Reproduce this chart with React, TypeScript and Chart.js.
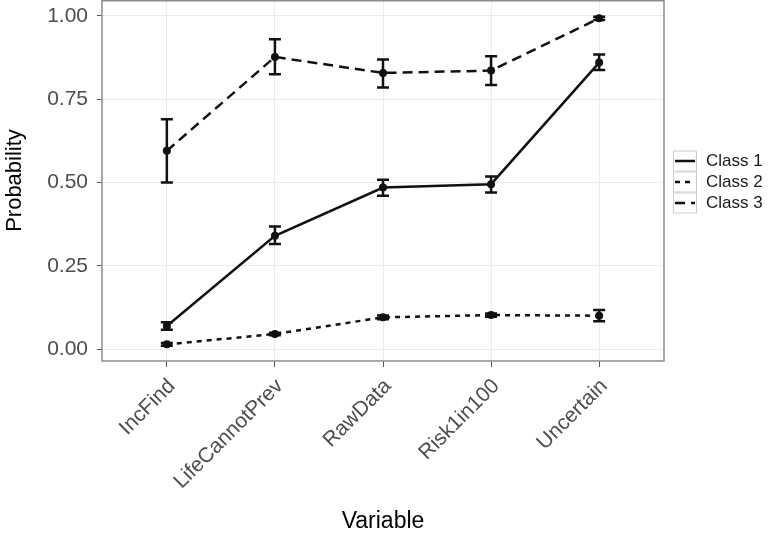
import React, { useEffect, useRef } from "react";
import { Chart, registerables } from "chart.js";

Chart.register(...registerables);

const categories = ["IncFind", "LifeCannotPrev", "RawData", "Risk1in100", "Uncertain"];
const seriesNames = ["Class 1", "Class 2", "Class 3"];

const class1Mean = [0.069, 0.34, 0.485, 0.495, 0.86];
const class1Lo = [0.058, 0.315, 0.46, 0.47, 0.838];
const class1Hi = [0.08, 0.368, 0.508, 0.518, 0.884];

const class2Mean = [0.014, 0.045, 0.095, 0.102, 0.1];
const class2Lo = [0.01, 0.041, 0.089, 0.097, 0.083];
const class2Hi = [0.018, 0.049, 0.101, 0.107, 0.117];

const class3Mean = [0.595, 0.877, 0.829, 0.836, 0.993];
const class3Lo = [0.5, 0.825, 0.785, 0.793, 0.988];
const class3Hi = [0.69, 0.93, 0.869, 0.879, 0.998];

const yTicks = [0, 0.25, 0.5, 0.75, 1.0];

const means = [class1Mean, class2Mean, class3Mean];
const los = [class1Lo, class2Lo, class3Lo];
const his = [class1Hi, class2Hi, class3Hi];
const dashes: number[][] = [[], [5, 5], [10, 6]];

const FONT = "'Liberation Sans', Arial, Helvetica, sans-serif";

const errorBarPlugin = {
  id: "errorBars",
  afterDatasetsDraw(chart: any) {
    const ctx = chart.ctx;
    const xs = chart.scales.x;
    const ys = chart.scales.y;
    ctx.save();
    ctx.strokeStyle = "#111";
    ctx.lineWidth = 2.5;
    ctx.setLineDash([]);
    for (let s = 0; s < means.length; s++) {
      for (let i = 0; i < categories.length; i++) {
        const x = xs.getPixelForValue(i);
        const y1 = ys.getPixelForValue(los[s][i]);
        const y2 = ys.getPixelForValue(his[s][i]);
        ctx.beginPath();
        ctx.moveTo(x, y1);
        ctx.lineTo(x, y2);
        ctx.moveTo(x - 6, y1);
        ctx.lineTo(x + 6, y1);
        ctx.moveTo(x - 6, y2);
        ctx.lineTo(x + 6, y2);
        ctx.stroke();
      }
    }
    ctx.restore();
  },
};

const panelPlugin = {
  id: "panelBorder",
  afterDraw(chart: any) {
    const { left, right, top, bottom } = chart.chartArea;
    const ctx = chart.ctx;
    ctx.save();
    ctx.strokeStyle = "#8c8c8c";
    ctx.lineWidth = 1.5;
    ctx.setLineDash([]);
    ctx.strokeRect(left, top + 0.75, right - left, bottom - top - 0.75);
    ctx.restore();
  },
};

const legendPlugin = {
  id: "ggLegend",
  afterDraw(chart: any) {
    const { right, top, bottom } = chart.chartArea;
    const ctx = chart.ctx;
    const x0 = right + 9;
    const keyW = 24;
    const keyH = 21;
    const cy = (top + bottom) / 2 + 1.5;
    ctx.save();
    for (let s = 0; s < seriesNames.length; s++) {
      const yc = cy + (s - 1) * keyH;
      ctx.setLineDash([]);
      ctx.strokeStyle = "#cccccc";
      ctx.lineWidth = 1;
      ctx.fillStyle = "#ffffff";
      ctx.fillRect(x0, yc - keyH / 2, keyW, keyH);
      ctx.strokeRect(x0 + 0.5, yc - keyH / 2 + 0.5, keyW - 1, keyH - 1);
      ctx.strokeStyle = "#111";
      ctx.lineWidth = 2.5;
      ctx.setLineDash(dashes[s]);
      ctx.beginPath();
      ctx.moveTo(x0 + 2, yc);
      ctx.lineTo(x0 + keyW - 2, yc);
      ctx.stroke();
      ctx.setLineDash([]);
      ctx.fillStyle = "#1a1a1a";
      ctx.font = `17px ${FONT}`;
      ctx.textAlign = "left";
      ctx.textBaseline = "middle";
      ctx.fillText(seriesNames[s], x0 + keyW + 9, yc);
    }
    ctx.restore();
  },
};

export default function App() {
  const canvasRef = useRef<HTMLCanvasElement | null>(null);

  useEffect(() => {
    document.body.style.margin = "0";
    const canvas = canvasRef.current;
    if (!canvas) return;
    const chart = new Chart(canvas, {
      type: "line",
      data: {
        datasets: means.map((m, s) => ({
          label: seriesNames[s],
          data: m.map((v, i) => ({ x: i, y: v })),
          borderColor: "#111",
          backgroundColor: "#111",
          borderWidth: 2.5,
          borderDash: dashes[s],
          pointRadius: 4,
          pointBorderWidth: 0,
          pointBackgroundColor: "#111",
          tension: 0,
          fill: false,
        })),
      },
      options: {
        responsive: false,
        animation: false,
        devicePixelRatio: 1,
        layout: { autoPadding: false, padding: { left: 0, right: 109, top: 0, bottom: 0 } },
        plugins: {
          legend: { display: false },
          tooltip: { enabled: false },
        },
        scales: {
          x: {
            type: "linear",
            min: -0.6,
            max: 4.6,
            afterBuildTicks: (scale: any) => {
              scale.ticks = categories.map((_, i) => ({ value: i }));
            },
            afterFit: (scale: any) => {
              scale.height = 174;
            },
            grid: {
              color: "#ebebeb",
              lineWidth: 1,
              tickColor: "#555",
              tickLength: 6,
              drawOnChartArea: true,
            },
            border: { display: false },
            ticks: {
              autoSkip: false,
              minRotation: 45,
              maxRotation: 45,
              padding: 7,
              labelOffset: 5,
              color: "#4d4d4d",
              font: { family: FONT, size: 21 },
              callback: (v: any) => categories[Math.round(Number(v))] ?? "",
            },
            title: {
              display: true,
              text: "Variable",
              color: "#000",
              font: { family: FONT, size: 23 },
              padding: 0,
            },
          },
          y: {
            type: "linear",
            min: -0.036,
            max: 1.048,
            afterBuildTicks: (scale: any) => {
              scale.ticks = yTicks.map((v) => ({ value: v }));
            },
            afterFit: (scale: any) => {
              scale.width = 102;
              scale.paddingTop = 0;
              scale.paddingBottom = 0;
            },
            grid: {
              color: "#ebebeb",
              lineWidth: 1,
              tickColor: "#555",
              tickLength: 5,
            },
            border: { display: false },
            ticks: {
              padding: 9,
              color: "#4d4d4d",
              font: { family: FONT, size: 21 },
              callback: (v: any) => Number(v).toFixed(2),
            },
            title: {
              display: true,
              text: "Probability",
              color: "#000",
              font: { family: FONT, size: 22 },
              padding: { top: 2, bottom: 0 },
            },
          },
        },
      },
      plugins: [errorBarPlugin, panelPlugin, legendPlugin],
    } as any);
    return () => chart.destroy();
  }, []);

  return (
    <div style={{ position: "absolute", left: 0, top: 0, width: 773, height: 535, background: "#fff" }}>
      <canvas ref={canvasRef} width={773} height={535} style={{ width: 773, height: 535 }} />
    </div>
  );
}
